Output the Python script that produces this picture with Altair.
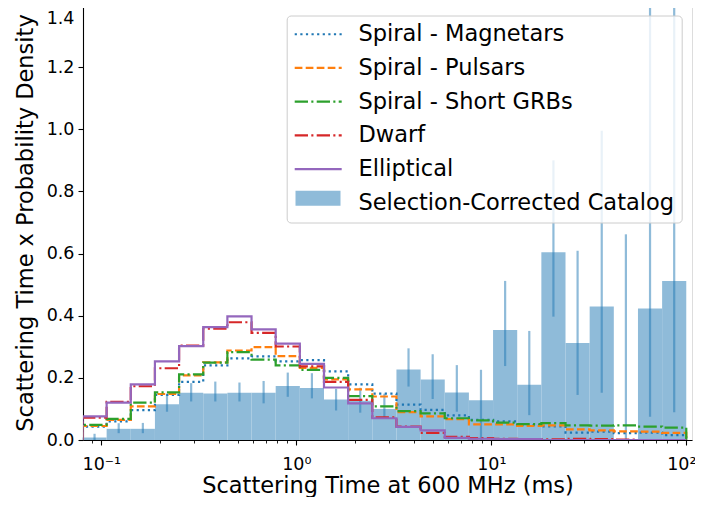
import numpy as np
import pandas as pd
import altair as alt

# ---------------- data ----------------
# 25 log-spaced bins from 0.08 ms to 100 ms
bin_edges = list(np.logspace(np.log10(0.08), 2.0, 26))

series_names = ["Spiral - Magnetars", "Spiral - Pulsars", "Spiral - Short GRBs",
                "Dwarf", "Elliptical"]
catalog_name = "Selection-Corrected Catalog"

magnetars = [0.043, 0.060, 0.096, 0.145, 0.187, 0.240, 0.263, 0.269, 0.253, 0.257,
             0.221, 0.179, 0.149, 0.114, 0.097, 0.079, 0.065, 0.060, 0.048, 0.044,
             0.024, 0.027, 0.022, 0.024, 0.016]
pulsars = [0.045, 0.065, 0.108, 0.148, 0.208, 0.250, 0.288, 0.299, 0.270, 0.232,
           0.195, 0.163, 0.140, 0.090, 0.076, 0.067, 0.050, 0.050, 0.045, 0.047,
           0.034, 0.031, 0.028, 0.027, 0.023]
short_grbs = [0.049, 0.068, 0.120, 0.153, 0.211, 0.249, 0.283, 0.259, 0.240, 0.226,
              0.200, 0.141, 0.108, 0.093, 0.086, 0.070, 0.063, 0.056, 0.051, 0.054,
              0.047, 0.046, 0.047, 0.043, 0.040]
dwarf = [0.072, 0.123, 0.173, 0.231, 0.304, 0.358, 0.379, 0.345, 0.301, 0.237,
         0.187, 0.129, 0.073, 0.043, 0.023, 0.010, 0.006, 0.004, 0.003, 0.002,
         0.004, 0.003, 0.001, 0.000, 0.000]
elliptical = [0.076, 0.120, 0.179, 0.253, 0.302, 0.363, 0.398, 0.356, 0.310, 0.245,
              0.169, 0.118, 0.070, 0.042, 0.031, 0.007, 0.004, 0.003, 0.003, 0.000,
              0.000, 0.000, 0.000, 0.000, 0.000]

catalog = [0.008, 0.036, 0.036, 0.115, 0.152, 0.150, 0.152, 0.152, 0.174, 0.167,
           0.130, 0.126, 0.100, 0.227, 0.195, 0.153, 0.128, 0.354, 0.178, 0.604,
           0.312, 0.430, 0.000, 0.423, 0.512]
err_lo = [0.000, 0.022, 0.022, 0.091, 0.124, 0.124, 0.124, 0.118, 0.139, 0.134,
          0.095, 0.088, 0.074, 0.172, 0.132, 0.091, 0.000, 0.238, 0.080, 0.397,
          0.145, 0.152, 0.000, 0.075, 0.089]
err_hi = [0.020, 0.054, 0.055, 0.147, 0.183, 0.188, 0.185, 0.190, 0.217, 0.215,
          0.165, 0.168, 0.149, 0.295, 0.276, 0.241, 0.226, 0.512, 0.351, 0.900,
          0.609, 0.995, 0.662, 1.500, 1.500]

x_major = [0.1, 1, 10, 100]
x_major_labels = ["10\u207b\u00b9", "10\u2070", "10\u00b9", "10\u00b2"]
x_minor = [0.09, 0.2, 0.3, 0.4, 0.5, 0.6, 0.7, 0.8, 0.9,
           2, 3, 4, 5, 6, 7, 8, 9, 20, 30, 40, 50, 60, 70, 80, 90]
y_ticks = [0.0, 0.2, 0.4, 0.6, 0.8, 1.0, 1.2, 1.4]

# ---------------- styles ----------------
line_colors = ["#1f77b4", "#ff7f0e", "#2ca02c", "#d62728", "#9467bd"]
line_dashes = [[2.2, 3.4], [7.7, 3.3], [13.3, 3.3, 2.1, 3.3], [13.3, 3.3, 2.1, 3.3], [1, 0]]
bar_color = "#8fbbd9"
FONT = "DejaVu Sans"

# ---------------- tables ----------------
n = len(catalog)
bars_df = pd.DataFrame({
    "x0": bin_edges[:-1], "x1": bin_edges[1:], "h": catalog,
    "series": [catalog_name] * n,
})
err_df = pd.DataFrame({
    "xc": [float(np.sqrt(bin_edges[k] * bin_edges[k + 1])) for k in range(n)],
    "lo": err_lo, "hi": err_hi,
})

all_series = [magnetars, pulsars, short_grbs, dwarf, elliptical]
rows = []
for name, vals in zip(series_names, all_series):
    i = 0
    rows.append({"series": name, "x": bin_edges[0], "y": 0.0, "i": i}); i += 1
    for k, v in enumerate(vals):
        rows.append({"series": name, "x": bin_edges[k], "y": v, "i": i}); i += 1
        rows.append({"series": name, "x": bin_edges[k + 1], "y": v, "i": i}); i += 1
    rows.append({"series": name, "x": bin_edges[-1], "y": 0.0, "i": i})
lines_df = pd.DataFrame(rows)

# ---------------- scales / axes ----------------
W, H = 609, 435
xscale = alt.Scale(type="log", domain=[0.0805, 107], nice=False)
yscale = alt.Scale(domain=[0, 1.4], nice=False, zero=True)

major_test = "abs(log(datum.value)/LN10 - round(log(datum.value)/LN10)) < 0.001"
lab = "''"
for v, t in zip(reversed(x_major), reversed(x_major_labels)):
    lab = f"(abs(datum.value - {v}) < 1e-6 ? '{t}' : {lab})"

x_axis = alt.Axis(
    title="Scattering Time at 600 MHz (ms)",
    values=sorted(x_major + x_minor), labelExpr=lab,
    tickSize={"condition": {"test": major_test, "value": 5}, "value": 3},
    tickWidth={"condition": {"test": major_test, "value": 1.1}, "value": 0.85},
    labelOffset={"condition": {"test": "datum.value > 50", "value": -5}, "value": 0},
    labelPadding=10, labelFlush=False, labelOverlap=False, grid=False,
    labelFont=FONT, labelFontSize=17.5, labelColor="black",
    titleFont=FONT, titleFontSize=22.5, titleFontWeight="normal", titleColor="black",
    titlePadding=2, tickColor="black", domainColor="black", domainWidth=1.1,
)
top_test = "datum.value > 1.39"
y_axis = alt.Axis(
    title="Scattering Time x Probability Density",
    values=y_ticks, format=".1f", tickSize=5, tickWidth=1.1, labelPadding=4,
    labelFlush=False, grid=False,
    labelBaseline={"condition": {"test": top_test, "value": "top"}, "value": "middle"},
    labelOffset={"condition": {"test": top_test, "value": 4}, "value": 0},
    labelFont=FONT, labelFontSize=17.5, labelColor="black",
    titleFont=FONT, titleFontSize=22.5, titleFontWeight="normal", titleColor="black",
    titlePadding=9, tickColor="black", domainColor="black", domainWidth=1.1,
)

line_legend = alt.Legend(
    title=None, orient="none", legendX=203.7, legendY=10.5,
    symbolType="M-4,0H4", symbolSize=138, symbolStrokeWidth=2.2, symbolOffset=12.75,
    labelFont=FONT, labelFontSize=22.5, labelColor="black", labelOffset=29,
    labelLimit=500, rowPadding=10.7, padding=7.5,
    fillColor="rgba(255,255,255,0.8)", strokeColor="#cccccc", cornerRadius=4,
    zindex=1,
)
bar_legend = alt.Legend(
    title=None, orient="none", legendX=212.5, legendY=170.7,
    symbolType="M-1,-0.333H1V0.333H-1Z", symbolSize=2025, symbolStrokeWidth=0,
    labelExpr="''", labelOpacity=0, padding=0, zindex=2,
)

names_all = series_names + [catalog_name]
color_scale = alt.Scale(domain=names_all, range=line_colors + ["transparent"])
dash_scale = alt.Scale(domain=names_all, range=line_dashes + [[1, 0]])

# ---------------- layers ----------------
bars = alt.Chart(bars_df).mark_rect(opacity=1.0).encode(
    x=alt.X("x0:Q", scale=xscale, axis=x_axis),
    x2="x1:Q",
    y=alt.Y("h:Q", scale=yscale, axis=y_axis),
    y2=alt.datum(0),
    fill=alt.Fill("series:N", scale=alt.Scale(domain=[catalog_name], range=[bar_color]),
                  legend=bar_legend),
)

errs = alt.Chart(err_df).mark_rule(color="#1f77b4", opacity=0.5, strokeWidth=2.2, clip=True).encode(
    x=alt.X("xc:Q", scale=xscale, axis=x_axis),
    y=alt.Y("lo:Q", scale=yscale, axis=y_axis),
    y2="hi:Q",
)

line_layers = []
for name in series_names:
    line_layers.append(
        alt.Chart(lines_df[lines_df.series == name]).mark_line(strokeWidth=2.2, clip=True).encode(
            x=alt.X("x:Q", scale=xscale, axis=x_axis),
            y=alt.Y("y:Q", scale=yscale, axis=y_axis),
            color=alt.Color("series:N", scale=color_scale, legend=line_legend),
            strokeDash=alt.StrokeDash("series:N", scale=dash_scale, legend=line_legend),
            order="i:Q",
        )
    )

chart = alt.layer(bars, errs, *line_layers).properties(
    width=W, height=H,
    autosize=alt.AutoSizeParams(type="none"),
    padding={"left": 75, "top": -3, "right": 3, "bottom": 57},
).configure_view(
    stroke="black", strokeWidth=1.1,
).configure(font=FONT)

chart.save("out.html", embed_options={"renderer": "svg", "actions": False})
